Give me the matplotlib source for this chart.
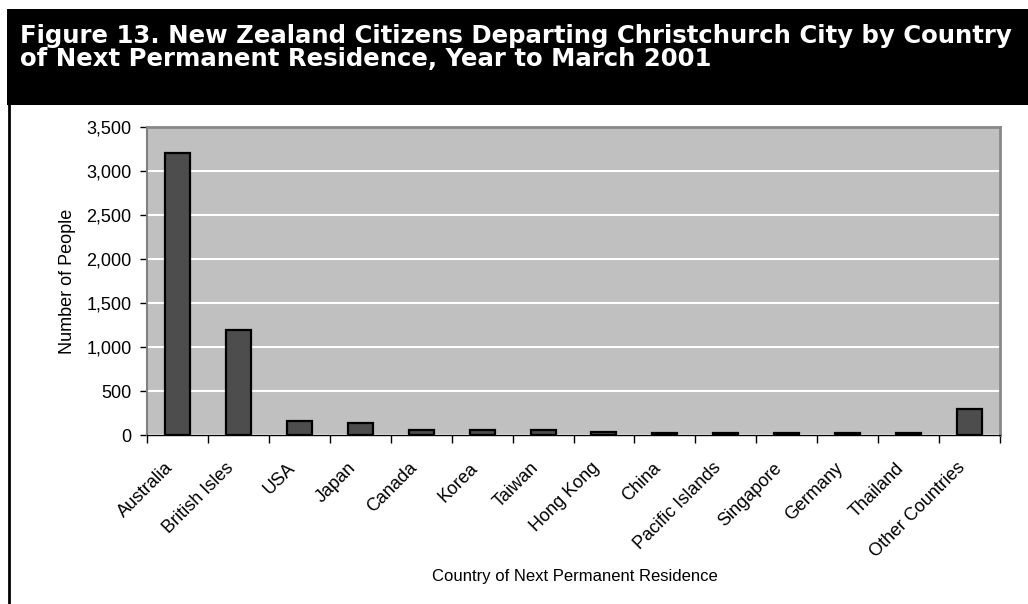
import matplotlib
matplotlib.use("Agg")
import matplotlib.pyplot as plt
from matplotlib.patches import Rectangle
from matplotlib.lines import Line2D
from matplotlib.transforms import ScaledTranslation
from matplotlib.ticker import FuncFormatter, MultipleLocator, FixedLocator

countries = ["Australia", "British Isles", "USA", "Japan", "Canada", "Korea", "Taiwan",
             "Hong Kong", "China", "Pacific Islands", "Singapore", "Germany", "Thailand",
             "Other Countries"]
people = [3210, 1195, 162, 133, 58, 53, 52, 30, 28, 28, 28, 25, 25, 295]

title_lines = ["Figure 13. New Zealand Citizens Departing Christchurch City by Country",
               "of Next Permanent Residence, Year to March 2001"]
ylabel = "Number of People"
xlabel = "Country of Next Permanent Residence"

W, H = 1028, 604
plt.rcParams['font.family'] = ['Liberation Sans', 'DejaVu Sans']
fig = plt.figure(figsize=(W / 100, H / 100), dpi=100)

def fx(px):
    return px / W

def fy(py):
    return 1 - py / H

# Title banner
fig.patches.append(Rectangle((fx(7), fy(105)), 1 - fx(7), (105 - 9) / H,
                             transform=fig.transFigure, facecolor='black',
                             edgecolor='none', zorder=0))
# left frame line
fig.lines.append(Line2D([fx(8.7), fx(8.7)], [0, fy(100)], transform=fig.transFigure,
                        color='black', linewidth=2))
for line, base in zip(title_lines, [43, 65.5]):
    fig.text(fx(20), fy(base), line, color='white', fontsize=17.6, fontweight='bold',
             family=['DejaVu Sans'], ha='left', va='baseline')

ax = fig.add_axes([fx(147), fy(435), fx(1000) - fx(147), (435 - 127) / H])
ax.set_facecolor('#C0C0C0')
x = list(range(len(countries)))
ax.bar(x, people, width=0.41, color='#4D4D4D', edgecolor='black', linewidth=1.6, zorder=3)
ax.set_xlim(-0.5, len(countries) - 0.5)
ax.set_ylim(0, 3500)
ax.yaxis.set_major_locator(MultipleLocator(500))
ax.yaxis.set_major_formatter(FuncFormatter(lambda v, p: f"{int(v):,}"))
ax.grid(axis='y', color='white', linewidth=1.5, zorder=1)
ax.set_axisbelow(True)

ax.set_xticks(x)
ax.set_xticklabels(countries, rotation=45, ha='right', va='center',
                   rotation_mode='anchor', fontsize=13)
ax.tick_params(axis='x', which='major', length=0, pad=14)
shift = ScaledTranslation(-0.07, -0.11, fig.dpi_scale_trans)
for lab in ax.get_xticklabels():
    lab.set_transform(lab.get_transform() + shift)
ax.xaxis.set_minor_locator(FixedLocator([i + 0.5 for i in range(-1, len(countries))]))
ax.tick_params(axis='x', which='minor', length=6, width=1, color='black', direction='out')
ax.tick_params(axis='y', length=5, width=1, color='black', labelsize=13, pad=6)

for s in ['top', 'right']:
    ax.spines[s].set_color('#888888')
    ax.spines[s].set_linewidth(2)
ax.spines['left'].set_color('#808080')
ax.spines['left'].set_linewidth(1.5)
ax.spines['bottom'].set_color('black')
ax.spines['bottom'].set_linewidth(1)

fig.text(fx(68), fy(281), ylabel, rotation=90, ha='center', va='center', fontsize=13)
fig.text(fx(575), fy(577), xlabel, ha='center', va='center', fontsize=12)

fig.savefig("out.png", dpi=100)
